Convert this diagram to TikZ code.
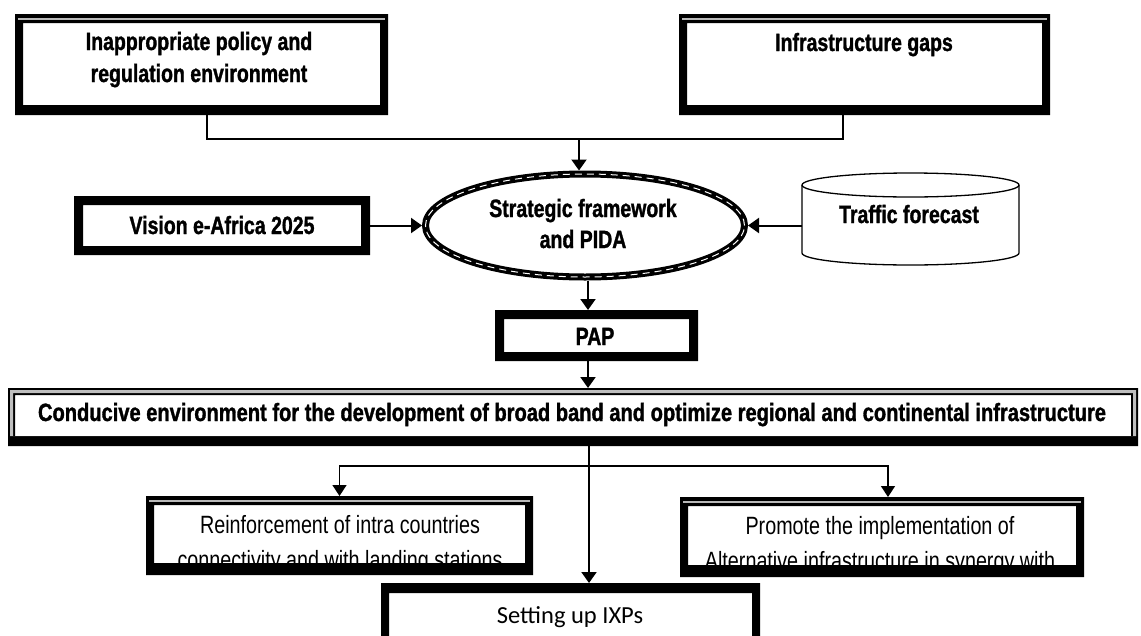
\documentclass[tikz,border=0pt]{standalone}
\usepackage{fontspec}
\usetikzlibrary{arrows.meta,shapes.geometric}
\newfontfamily\hbf{Liberation Sans Bold}[FakeStretch=0.78,FakeBold=1.2]
\newfontfamily\lnf{Liberation Sans}[FakeStretch=0.79]
\newfontfamily\carfont{Carlito}
\newcommand{\boxnode}[5]{\node[inner sep=0pt, outer sep=0pt, minimum width={#4-#2}, minimum height={#5-#3}] (#1) at ({(#2+#4)/2},{(#3+#5)/2}) {};}
\newcommand{\thickframe}[5]{\fill[black,even odd rule] (#1.south west) rectangle (#1.north east)
  ([shift={(#2pt,#5pt)}]#1.south west) rectangle ([shift={(-#3pt,-#4pt)}]#1.north east);}
\newcommand{\grayline}[1]{\draw[gray!55, line width=2pt] ([shift={(3pt,-4.5pt)}]#1.north west) -- ([shift={(-3pt,-4.5pt)}]#1.north east);}
\tikzset{
  bt/.style={inner sep=0pt, anchor=base, font=\hbf\fontsize{25}{25}\selectfont},
  lt/.style={inner sep=0pt, anchor=base, font=\lnf\fontsize{25}{25}\selectfont},
  ct/.style={inner sep=0pt, anchor=base, font=\carfont\fontsize{24.5}{24.5}\selectfont},
  conn/.style={line width=1.3pt},
  arr/.style={line width=2pt, -{Triangle[width=15pt,length=11pt]}},
  arrthin/.style={line width=1.5pt, -{Triangle[width=14pt,length=11pt]}},
}
\begin{document}
\begin{tikzpicture}[x=1pt,y=-1pt]
\useasboundingbox (0,0) rectangle (1141,635);
% box nodes
\boxnode{b1}{15}{14}{388}{115}
\boxnode{b2}{679}{14}{1050}{115}
\boxnode{vb}{74}{196}{370}{255}
\boxnode{pap}{495}{310}{698}{361}
\boxnode{cond}{8}{388}{1138}{446}
\boxnode{rf}{146}{496}{533}{575}
\boxnode{pm}{680}{497}{1084}{577}
\boxnode{ixp}{381}{583}{760}{660}
\node[inner sep=0pt, outer sep=0pt, minimum width=217pt, minimum height=92pt] (tf) at (910.5,219) {};
\node[ellipse, draw, line width=7pt, minimum width=319pt, minimum height=103pt,
      postaction={draw=white, line width=1pt, dash pattern=on 7pt off 5pt}] (sf) at (585,225.5) {};
% texts
\node[bt] (t1a) at (199,50) {Inappropriate policy and};
\node[bt] (t1b) at (199,82) {regulation environment};
\node[bt] (t2) at (864,51) {Infrastructure gaps};
\node[bt] (tsfa) at (583,217) {Strategic framework};
\node[bt] (tsfb) at (583,248) {and PIDA};
\node[bt] (tvb) at (222,234) {Vision e-Africa 2025};
\node[bt] (ttf) at (909,223) {Traffic forecast};
\node[bt] (tpap) at (595,345) {PAP};
\node[bt] (tcond) at (572,421) {\scalebox{1.03}[1]{Conducive environment for the development of broad band and optimize regional and continental infrastructure}};
\node[lt] (trfa) at (340,533) {Reinforcement of intra countries};
\node[lt] (trfb) at (340,568) {connectivity and with landing stations};
\node[lt] (tpma) at (880,534) {Promote the implementation of};
\node[lt] (tpmb) at (880,569) {Alternative infrastructure in synergy with};
\node[ct] (tixp) at (570,623) {Setting up IXPs};
% frames
\thickframe{b1}{8}{8}{9}{10}\grayline{b1}
\thickframe{b2}{8}{8}{9}{10}\grayline{b2}
\thickframe{vb}{9}{9}{9}{9}
\thickframe{pap}{9}{9}{9}{9}
\thickframe{rf}{8}{8}{9}{12}\grayline{rf}
\thickframe{pm}{8}{8}{9}{12}\grayline{pm}
\thickframe{ixp}{8}{8}{10}{0}
\fill[black,even odd rule] (cond.south west) rectangle (cond.north east)
  ([shift={(7pt,10pt)}]cond.south west) rectangle ([shift={(-7pt,-7pt)}]cond.north east);
\fill[gray!50,even odd rule] ([shift={(2pt,10pt)}]cond.south west) rectangle ([shift={(-2pt,-2pt)}]cond.north east)
  ([shift={(5pt,10pt)}]cond.south west) rectangle ([shift={(-5pt,-5pt)}]cond.north east);
% cylinder
\draw[line width=1.3pt] (910.5,185) ellipse [x radius=108.5, y radius=12];
\draw[line width=1.3pt] (802,185) -- (802,253) arc[start angle=180, end angle=0, x radius=108.5, y radius=12] -- (1019,185);
% connectors
\coordinate (j1) at (207,139);
\coordinate (j2) at (843,139);
\coordinate (j3) at (579,139);
\coordinate (k) at (588,300);
\coordinate (m) at (589,466);
\draw[conn] (b1.south -| j1) -- (j1) -- (j2) -- (b2.south -| j2);
\draw[arr] (j3) -- (sf.north -| j3);
\draw[arr] (vb.east) -- (sf.west);
\draw[arr] (tf.west |- sf.east) -- (sf.east);
\draw[arr] (sf.south -| k) -- (pap.north -| k);
\draw[arr] (pap.south -| k) -- (cond.north -| k);
\draw[arr] (cond.south -| m) -- (ixp.north -| m);
\draw[arrthin] (m) -| (rf.north);
\draw[arrthin] (m) -| ([xshift=6pt]pm.north);
\end{tikzpicture}
\end{document}
